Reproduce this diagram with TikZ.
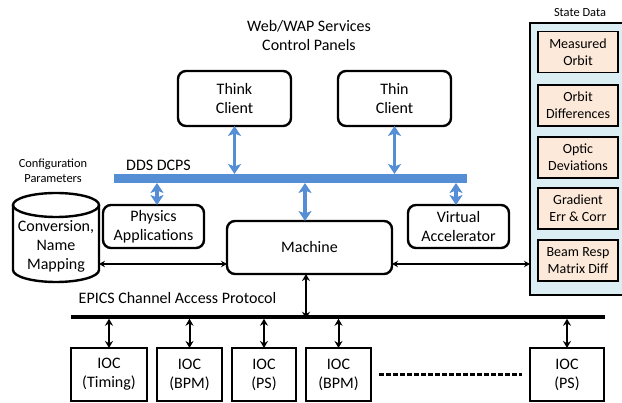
\documentclass[tikz,border=0pt]{standalone}
\usepackage{fontspec}
\setmainfont{Carlito}
\usetikzlibrary{arrows.meta}
\definecolor{busblue}{RGB}{85,142,213}
\definecolor{statebg}{RGB}{219,238,244}
\definecolor{peach}{RGB}{253,233,217}
\begin{document}
\begin{tikzpicture}[x=1pt,y=-1pt,
  every node/.style={font=\fontsize{16}{19}\selectfont, align=center, inner sep=0pt, outer sep=0pt},
  smalltext/.style={font=\fontsize{12.4}{15}\selectfont},
  rbox/.style={draw, line width=2.4pt, rounded corners=8pt},
  iocbox/.style={draw, line width=1.8pt, minimum height=53pt},
  statebox/.style={draw, line width=1.8pt, fill=peach, minimum width=80pt, minimum height=41pt, font=\fontsize{14}{17}\selectfont},
  barrow/.style={busblue, line width=3.5pt, {Stealth[length=10pt,width=13pt,inset=2.5pt]}-{Stealth[length=10pt,width=13pt,inset=2.5pt]}},
  harrow/.style={line width=1.3pt, {Stealth[length=6pt,width=6.5pt]}-{Stealth[length=6pt,width=6.5pt]}},
  varrow/.style={line width=2pt, {Stealth[length=7pt,width=8pt]}-{Stealth[length=7pt,width=8pt]}}
]
\useasboundingbox (0,0) rectangle (622,403);

% titles and labels
\node (title) at (309,35.5) {Web/WAP Services\\Control Panels};
\node (ddslbl) at (158.5,165) {DDS DCPS};
\node[smalltext] (cfglbl) at (53,170.5) {Configuration\\Parameters};
\node[smalltext] (statelbl) at (580,13) {State Data};
\node (epicslbl) at (177.5,298) {EPICS Channel Access Protocol};

% clients
\node[rbox, minimum width=113pt, minimum height=55pt] (think) at (234.5,98.5) {Think\\Client};
\node[rbox, minimum width=113pt, minimum height=55pt] (thin) at (394.5,98.5) {Thin\\Client};

% DDS bus
\node[fill=busblue, minimum width=353pt, minimum height=9pt] (bus) at (290.5,178.5) {};

% middle boxes
\node[rbox, minimum width=101pt, minimum height=43pt] (phys) at (153.5,226.5) {Physics\\Applications};
\node[rbox, minimum width=101pt, minimum height=43pt] (virt) at (458.5,226.5) {Virtual\\Accelerator};
\node[rbox, minimum width=165pt, minimum height=53pt] (machine) at (309.5,247.5) {Machine};

% cylinder
\node[minimum width=86pt, minimum height=89pt] (db) at (56,237.5) {};
\draw[line width=2.4pt] (13,205) -- (13,270) arc[start angle=180, end angle=360, x radius=43pt, y radius=12pt] -- (99,205);
\draw[line width=2.4pt] (56,205) ellipse[x radius=43pt, y radius=12pt];
\node (dbtxt) at (56,246.5) {Conversion,\\Name\\Mapping};

% state data
\node[draw, line width=1.8pt, fill=statebg, minimum width=94pt, minimum height=272pt] (state) at (577,159) {};
\node[statebox] (s1) at (578,52) {Measured\\Orbit};
\node[statebox] (s2) at (578,105.5) {Orbit\\Differences};
\node[statebox] (s3) at (578,157.5) {Optic\\Deviations};
\node[statebox] (s4) at (578,208.5) {Gradient\\Err \& Corr};
\node[statebox] (s5) at (578,260.5) {Beam Resp\\Matrix Diff};

% EPICS bus
\node[fill=black, minimum width=534pt, minimum height=3.5pt] (ebus) at (338,317) {};

% IOCs
\node[iocbox, minimum width=76pt] (ioc1) at (109,374.5) {IOC\\(Timing)};
\node[iocbox, minimum width=65pt] (ioc2) at (189.5,374.5) {IOC\\(BPM)};
\node[iocbox, minimum width=64pt] (ioc3) at (264,374.5) {IOC\\(PS)};
\node[iocbox, minimum width=65pt] (ioc4) at (338.5,374.5) {IOC\\(BPM)};
\node[iocbox, minimum width=74pt] (ioc5) at (567,374.5) {IOC\\(PS)};

% blue arrows
\draw[barrow] (think.south) -- (think.south |- bus.north);
\draw[barrow] (thin.south) -- (thin.south |- bus.north);
\draw[barrow] ([xshift=3.5pt]phys.north) -- ([xshift=3.5pt]phys.north |- bus.south);
\draw[barrow] ([xshift=-2.5pt]virt.north) -- ([xshift=-2.5pt]virt.north |- bus.south);
\draw[barrow] ([xshift=-4.5pt]machine.north) -- ([xshift=-4.5pt]machine.north |- bus.south);

% black arrows
\coordinate (ly) at (0,264);
\draw[harrow] (db.east |- ly) -- (machine.west |- ly);
\draw[harrow] (machine.east |- ly) -- (state.west |- ly);
\draw[varrow] ([xshift=-3.5pt]machine.south) -- ([xshift=-3.5pt]machine.south |- ebus.south);
\foreach \i in {1,...,5} {
  \draw[varrow] (ebus.south -| ioc\i.north) -- (ioc\i.north);
}
\draw[line width=2.5pt, dash pattern=on 5pt off 2pt, shorten <=8pt, shorten >=8pt] (ioc4.east) -- (ioc5.west);
\end{tikzpicture}
\end{document}
